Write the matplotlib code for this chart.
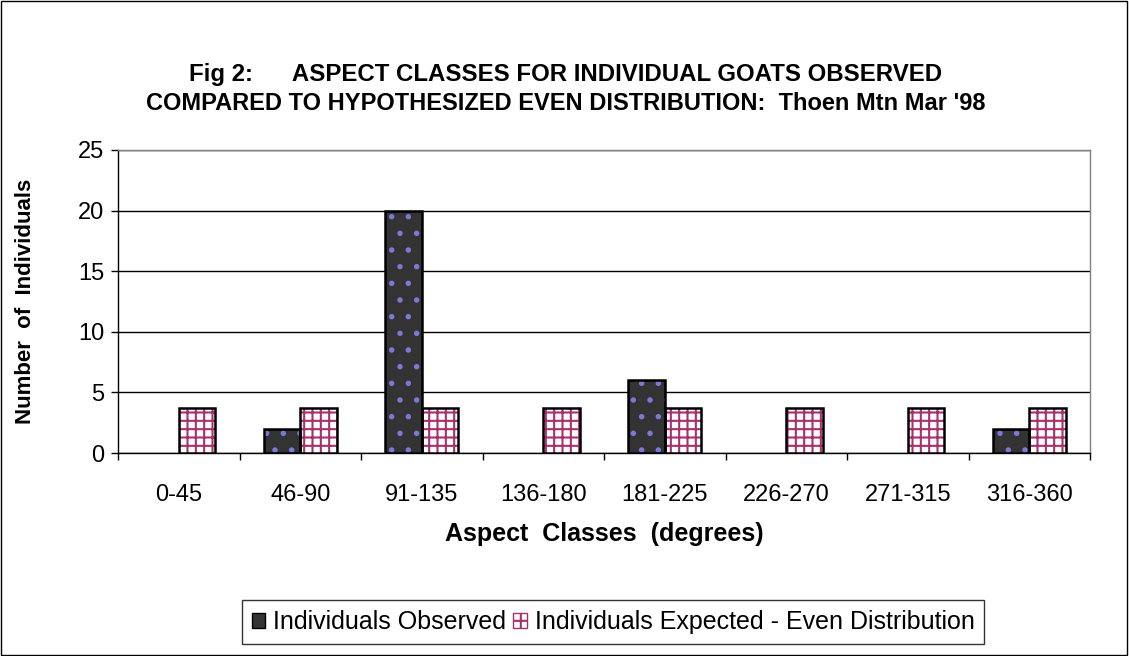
import numpy as np
import matplotlib.pyplot as plt
import matplotlib.patches as mpatches

plt.rcParams['font.family'] = ['Liberation Sans', 'DejaVu Sans']
plt.rcParams['hatch.linewidth'] = 1.5

# data
classes = ['0-45', '46-90', '91-135', '136-180', '181-225', '226-270', '271-315', '316-360']
observed = [0, 2, 20, 0, 6, 0, 0, 2]
expected = [3.75, 3.75, 3.75, 3.75, 3.75, 3.75, 3.75, 3.75]

fig = plt.figure(figsize=(11.29, 6.56), dpi=100, facecolor='white')
ax = fig.add_axes([118 / 1129, 1 - 453 / 656, 972 / 1129, 303 / 656])

x = np.arange(len(classes))
w = 0.3
obs = np.array(observed, dtype=float)

# observed: dark grey with small blue dots (outline only where there is a bar)
ax.bar(x - w / 2, obs, w, color='#333333', hatch='.', edgecolor='#7a7ad6',
       linewidth=0, zorder=3)
ax.bar(x - w / 2, obs, w, fill=False, edgecolor='black',
       linewidth=np.where(obs > 0, 1.8, 0), zorder=4)

# expected: white with magenta grid
ax.bar(x + w / 2, expected, w, color='white', hatch='++', edgecolor='#a8306e',
       linewidth=0, zorder=3)
ax.bar(x + w / 2, expected, w, fill=False, edgecolor='black', linewidth=1.8, zorder=4)

ax.set_xlim(-0.5, len(classes) - 0.5)
ax.set_ylim(0, 25)
ax.set_yticks(range(0, 26, 5))
ax.set_xticks(np.arange(len(classes) + 1) - 0.5, minor=False)
ax.set_xticklabels([])
ax.set_xticks(x, minor=True)
ax.set_xticklabels(classes, minor=True)
ax.tick_params(axis='x', which='minor', length=0, pad=22, labelsize=17)
ax.tick_params(axis='x', which='major', length=5, direction='out', width=1)
ax.tick_params(axis='y', length=5, direction='out', width=1, labelsize=17, pad=5)

ax.grid(axis='y', color='black', linewidth=1, zorder=0)
ax.set_axisbelow(True)
ax.spines['left'].set_color('black')
ax.spines['bottom'].set_color('black')
ax.spines['right'].set_color('#808080')
ax.spines['top'].set_color('#808080')
for s in ax.spines.values():
    s.set_linewidth(1)

ax.set_xlabel('Aspect  Classes  (degrees)', fontsize=18, fontweight='bold', labelpad=12)
ax.set_ylabel('Number  of  Individuals', fontsize=16, fontweight='bold', labelpad=30)

fig.text(566 / 1129, 1 - 75 / 656, "Fig 2:      ASPECT CLASSES FOR INDIVIDUAL GOATS OBSERVED",
         ha='center', va='center', fontsize=17.3, fontweight='bold')
fig.text(566 / 1129, 1 - 103 / 656, "COMPARED TO HYPOTHESIZED EVEN DISTRIBUTION:  Thoen Mtn Mar '98",
         ha='center', va='center', fontsize=17, fontweight='bold')

# legend
h_obs = mpatches.Patch(facecolor='#333333', edgecolor='black', linewidth=1)
h_exp = mpatches.Patch(facecolor='white', edgecolor='#a8306e', hatch='++', linewidth=1)
leg = fig.legend([h_obs, h_exp],
                 ['Individuals Observed', 'Individuals Expected - Even Distribution'],
                 loc='center', bbox_to_anchor=(613 / 1129, 1 - 622 / 656), ncol=2,
                 fontsize=18, frameon=True, fancybox=False, edgecolor='black',
                 handlelength=0.55, handleheight=0.55, handletextpad=0.3,
                 columnspacing=0.3, borderpad=0.4)
leg.get_frame().set_linewidth(1)

# outer chart border
fig.patches.append(mpatches.Rectangle((0.001, 0.002), 0.997, 0.996, transform=fig.transFigure,
                                      fill=False, edgecolor='black', linewidth=1))

fig.savefig('out.png', dpi=100, facecolor='white')
